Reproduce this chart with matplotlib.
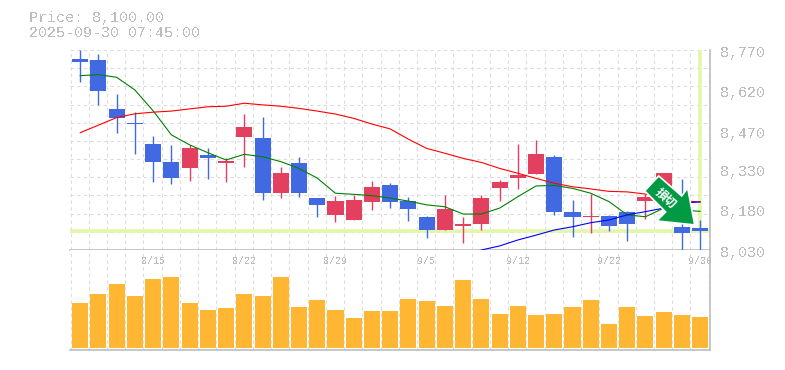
#Velas con medias y volumen
import numpy as np
import matplotlib.pyplot as plt
from matplotlib.patches import Polygon
from matplotlib.transforms import IdentityTransform

plt.rcParams['font.family'] = ['Liberation Mono', 'DejaVu Sans Mono']
plt.rcParams['text.antialiased'] = False

# datos
opens = [8737, 8733, 8552, 8500, 8422, 8356, 8335, 8381, 8352, 8449, 8444, 8241, 8352, 8222, 8160, 8141, 8208, 8271,
         8211, 8152, 8104, 8119, 8126, 8259, 8296, 8311, 8374, 8171, 8152, 8156, 8171, 8211, 8252, 8115, 8111]
closes = [8726, 8619, 8520, 8497, 8356, 8298, 8407, 8370, 8359, 8485, 8241, 8315, 8241, 8197, 8211, 8215, 8263, 8208,
          8183, 8104, 8182, 8126, 8222, 8282, 8307, 8385, 8171, 8152, 8156, 8119, 8126, 8226, 8315, 8093, 8100]
highs = [8770, 8755, 8607, 8540, 8452, 8419, 8419, 8407, 8370, 8533, 8522, 8338, 8374, 8222, 8231, 8234, 8285, 8277,
         8226, 8156, 8234, 8152, 8234, 8289, 8422, 8437, 8381, 8215, 8237, 8160, 8174, 8237, 8315, 8293, 8141]
lows = [8653, 8568, 8464, 8385, 8283, 8275, 8286, 8294, 8283, 8338, 8215, 8223, 8227, 8153, 8134, 8141, 8178, 8185,
        8137, 8074, 8104, 8057, 8104, 8211, 8256, 8311, 8160, 8079, 8093, 8100, 8063, 8145, 8200, 8030, 8030]
ma_short = [8675, 8679, 8669, 8622, 8545, 8456, 8419, 8390, 8363, 8384, 8375, 8357, 8332, 8296, 8240, 8236, 8231, 8222,
            8211, 8197, 8190, 8163, 8163, 8185, 8227, 8267, 8269, 8258, 8240, 8209, 8160, 8153, 8185, 8178, 8173]
ma_long = [8464, 8492, 8520, 8534, 8540, 8544, 8552, 8560, 8562, 8573, 8567, 8562, 8554, 8544, 8533, 8517, 8496, 8478,
           8440, 8406, 8388, 8369, 8354, 8332, 8314, 8295, 8277, 8264, 8256, 8247, 8245, 8237, 8226, 8212, 8208]
ma_extra = [None] * 22 + [8030, 8045, 8067, 8085, 8104, 8116, 8131, 8141, 8160, 8172, 8185, 8203, 8208]
volumes = [44.7, 53.7, 63.7, 51.7, 68.7, 70.7, 44.7, 37.7, 39.7, 53.7, 51.7, 70.7, 40.7, 47.7, 37.7, 29.7, 36.7, 36.7,
           49, 47, 42, 68, 49, 34, 42, 33, 34, 41, 48, 24, 41, 32, 36, 33, 31]
date_pos = [4, 9, 14, 19, 24, 29, 34]
date_labels = ['8/15', '8/22', '8/29', '9/5', '9/12', '9/22', '9/30']
price_ticks = [8770, 8620, 8470, 8330, 8180, 8030]
last_price = 8100

BLUE = '#4169E1'
RED = '#E3405F'
GRAY = '#BDBDBD'
GRID = '#DCDCDC'
LIME = '#E3F6AB'

fig = plt.figure(figsize=(7.85, 3.7), dpi=100)
ax = fig.add_axes([70 / 785, 1 - 250 / 370, 640 / 785, 200 / 370])
ax_vol = fig.add_axes([70 / 785, 1 - 350 / 370, 640 / 785, 100 / 370])

xs = np.arange(len(closes))
for a in (ax, ax_vol):
    a.set_xlim(-0.56, 34.54)
    a.set_xticks(np.arange(-0.53, 35), minor=True)
    a.set_xticks([])
    a.tick_params(which='both', length=0, labelbottom=False, labelleft=False)
    a.grid(which='minor', axis='x', color=GRID, linestyle=(0, (3, 3)), linewidth=0.8)
    a.set_axisbelow(True)
    a.spines['top'].set_visible(False)
    a.spines['left'].set_visible(False)
    a.spines['right'].set_color(GRAY)
    a.spines['bottom'].set_color(GRAY)
    a.spines['right'].set_linewidth(1.2)
    a.spines['bottom'].set_linewidth(1.2)

ax.set_ylim(8030, 8770)
ax.set_yticks(np.linspace(8030, 8770, 12))
ax.grid(axis='y', color=GRID, linestyle=(0, (3, 3)), linewidth=0.8)

# linea del ultimo precio
ax.axhline(last_price, color=LIME, linewidth=2.6, zorder=1.5)
ax.plot([xs[-1], xs[-1]], [last_price, 8770], color=LIME, linewidth=2.6, zorder=1.5)

# velas
colors = [RED if c >= o else BLUE for o, c in zip(opens, closes)]
ax.vlines(xs, lows, highs, colors=colors, linewidth=1, zorder=3)
bottoms = np.minimum(opens, closes)
heights = np.abs(np.array(closes) - np.array(opens))
ax.bar(xs, heights, bottom=bottoms, width=0.88, color=colors, zorder=3)

ax.plot(xs, ma_short, color='green', linewidth=0.8, zorder=4)
ax.plot(xs, ma_long, color='red', linewidth=0.8, zorder=4)
ax.plot(xs, np.array(ma_extra, dtype=float), color='blue', linewidth=0.8, zorder=4)

# flecha de la senal, en pixeles desde la punta
arrow_px = [(-50, 35), (-36, 50), (-13, 30), (-7, 38), (0, 1), (-38, 5), (-29, 14)]
x0, y0 = ax.transData.transform((33.7, 8119))
ax.add_patch(Polygon(np.array(arrow_px) + [x0, y0], closed=True, transform=IdentityTransform(),
                     facecolor='#009944', edgecolor='white', linewidth=1.2, zorder=6, clip_on=False))
ax.annotate('損切', xy=(x0, y0), xycoords=IdentityTransform(), xytext=(-21, 20), textcoords='offset points',
            color='white', fontsize=8.5, fontweight='bold', rotation=-42, ha='center', va='center',
            family=['Noto Sans CJK JP', 'DejaVu Sans'], zorder=7, antialiased=True)

# etiquetas de precio
for p in price_ticks:
    ax.annotate(f'{p:,}', xy=(1, p), xycoords=ax.get_yaxis_transform(), xytext=(7, -2), textcoords='offset points',
                color=GRAY, fontsize=10.8, ha='left', va='center', annotation_clip=False)

# volumen
ax_vol.set_ylim(-2, 98)
ax_vol.bar(xs, volumes, width=0.88, color='#FFB733', zorder=3)
for d, label in zip(date_pos, date_labels):
    ax_vol.text(d, 0.89, label, transform=ax_vol.get_xaxis_transform(), color=GRAY, fontsize=7.2,
                ha='center', va='center', clip_on=False)

fig.text(29 / 785, 1 - 18 / 370, 'Price: 8,100.00', color=GRAY, fontsize=10.8, va='center')
fig.text(29 / 785, 1 - 33 / 370, '2025-09-30 07:45:00', color=GRAY, fontsize=10.8, va='center')

fig.savefig('out.png', dpi=100)
